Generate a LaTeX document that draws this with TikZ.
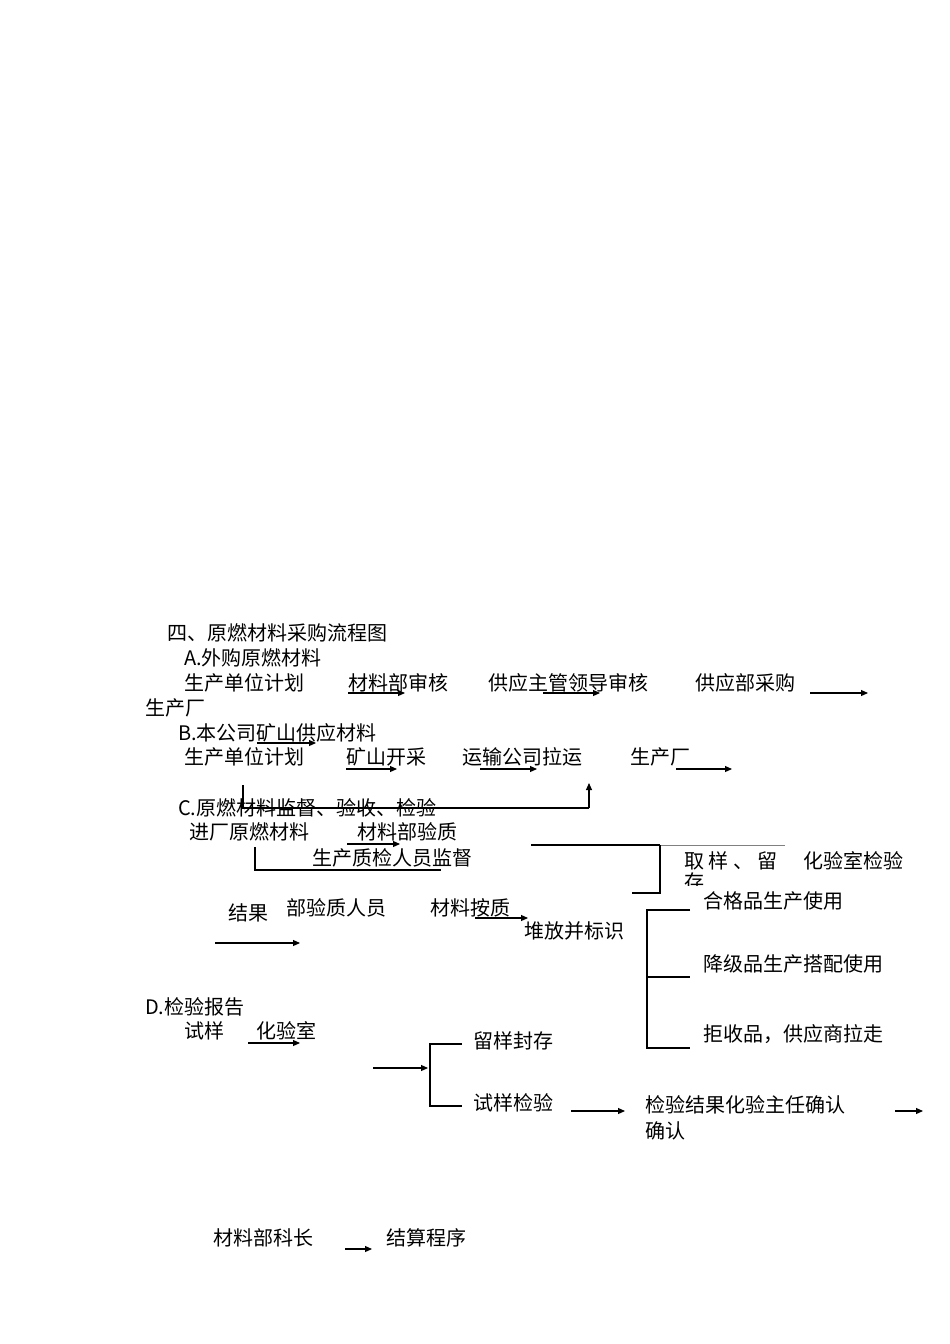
\documentclass[tikz,border=0pt]{standalone}
\usepackage{fontspec}
\setmainfont{Liberation Serif}
\newfontfamily\cjk{Noto Sans CJK SC}
\usetikzlibrary{arrows.meta}
\begin{document}
\begin{tikzpicture}[x=1pt,y=-1pt,
  t/.style={anchor=west,inner sep=0pt,font=\cjk\fontsize{20}{22}\selectfont},
  ar/.style={-{Triangle[length=7pt,width=6pt]},line width=1.1pt},
  ln/.style={line width=1.1pt}]
\useasboundingbox (0,0) rectangle (950,1344);
\node[t] (h) at (167,633) {四、原燃材料采购流程图};
\node[t] (a) at (184,658) {A.外购原燃材料};
\node[t] (a1) at (184,683) {生产单位计划};
\node[t] (a2) at (348,683) {材料部审核};
\node[t] (a3) at (488,683) {供应主管领导审核};
\node[t] (a4) at (695,683) {供应部采购};
\node[t] (a5) at (145,708) {生产厂};
\coordinate (p1) at (348,693); \coordinate (p2) at (405,693);
\coordinate (p3) at (543,693); \coordinate (p4) at (600,693);
\coordinate (p5) at (810,693); \coordinate (p6) at (868,693);
\draw[ar] (p1)--(p2); \draw[ar] (p3)--(p4); \draw[ar] (p5)--(p6);
\node[t] (b) at (178,733) {B.本公司矿山供应材料};
\node[t] (b1) at (184,757) {生产单位计划};
\node[t] (b2) at (346,757) {矿山开采};
\node[t] (b3) at (462,757) {运输公司拉运};
\node[t] (b4) at (630,757) {生产厂};
\coordinate (q1) at (257,743); \coordinate (q2) at (316,743);
\coordinate (q3) at (346,769); \coordinate (q4) at (397,769);
\coordinate (q5) at (480,769); \coordinate (q6) at (537,769);
\coordinate (q7) at (676,769); \coordinate (q8) at (732,769);
\draw[ar] (q1)--(q2); \draw[ar] (q3)--(q4); \draw[ar] (q5)--(q6); \draw[ar] (q7)--(q8);
\coordinate (r1) at (243,785); \coordinate (r2) at (243,808);
\coordinate (r3) at (589,808); \coordinate (r4) at (589,783);
\draw[ln] (r1)--(r2)--(r3); \draw[ar] (r3)--(r4);
\node[t] (c) at (178,808) {C.原燃材料监督、验收、检验};
\node[t] (c1) at (189,832) {进厂原燃材料};
\node[t] (c2) at (357,832) {材料部验质};
\coordinate (s1) at (347,844); \coordinate (s2) at (400,844);
\draw[ar] (s1)--(s2);
\node[t] (c3) at (312,858) {生产质检人员监督};
\coordinate (u1) at (255,847); \coordinate (u2) at (255,870); \coordinate (u3) at (441,870);
\draw[ln] (u1)--(u2)--(u3);
\coordinate (v1) at (531,845); \coordinate (v2) at (660,845); \coordinate (v3) at (785,845);
\coordinate (v4) at (660,893); \coordinate (v5) at (632,893);
\draw[ln] (v1)--(v2); \draw[line width=0.5pt,gray] (v2)--(v3);
\draw[ln] (v2)--(v4)--(v5);
\node[t] (c4) at (684,861) {取 样 、 留};
\begin{scope}
\clip (680,872) rectangle (720,885);
\node[t] (c5) at (684,882) {存};
\end{scope}
\node[t] (c6) at (803,861) {化验室检验};
\node[t] (c7) at (228,913) {结果};
\node[t] (c8) at (286,908) {部验质人员};
\node[t] (c9) at (430,908) {材料按质};
\coordinate (w1) at (475,918); \coordinate (w2) at (528,918);
\draw[ar] (w1)--(w2);
\node[t] (c10) at (524,931) {堆放并标识};
\coordinate (x1) at (215,943); \coordinate (x2) at (300,943);
\draw[ar] (x1)--(x2);
\coordinate (y1) at (690,910); \coordinate (y2) at (647,910); \coordinate (y3) at (647,1048);
\coordinate (y4) at (690,1048); \coordinate (y5) at (647,977); \coordinate (y6) at (690,977);
\draw[ln] (y1)--(y2)--(y3)--(y4); \draw[ln] (y5)--(y6);
\node[t] (g1) at (703,901) {合格品生产使用};
\node[t] (g2) at (703,964) {降级品生产搭配使用};
\node[t] (g3) at (703,1034) {拒收品，供应商拉走};
\node[t] (d) at (145,1007) {D.检验报告};
\node[t] (d1) at (184,1031) {试样};
\node[t] (d2) at (256,1031) {化验室};
\coordinate (z1) at (248,1043); \coordinate (z2) at (300,1043);
\draw[ar] (z1)--(z2);
\coordinate (z3) at (373,1068); \coordinate (z4) at (428,1068);
\draw[ar] (z3)--(z4);
\coordinate (k1) at (462,1044); \coordinate (k2) at (430,1044); \coordinate (k3) at (430,1106); \coordinate (k4) at (462,1106);
\draw[ln] (k1)--(k2)--(k3)--(k4);
\node[t] (d3) at (473,1041) {留样封存};
\node[t] (d4) at (473,1103) {试样检验};
\coordinate (m1) at (571,1111); \coordinate (m2) at (625,1111);
\draw[ar] (m1)--(m2);
\node[t] (d5) at (645,1105) {检验结果化验主任确认};
\node[t] (d6) at (645,1131) {确认};
\coordinate (m3) at (895,1111); \coordinate (m4) at (923,1111);
\draw[ar] (m3)--(m4);
\node[t] (e1) at (213,1238) {材料部科长};
\coordinate (n1) at (345,1249); \coordinate (n2) at (372,1249);
\draw[ar] (n1)--(n2);
\node[t] (e2) at (386,1238) {结算程序};
\end{tikzpicture}
\end{document}
